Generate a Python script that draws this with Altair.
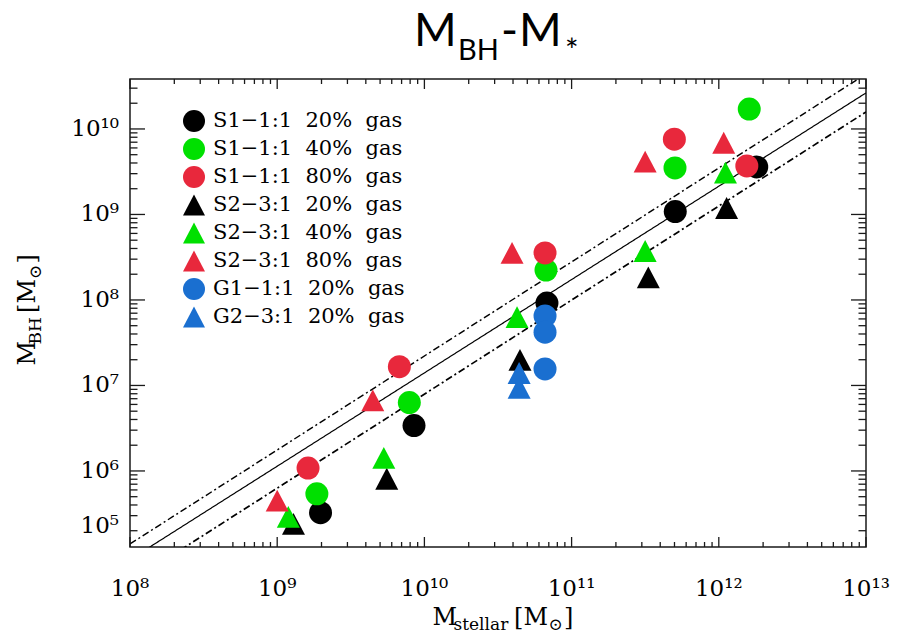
import altair as alt
import pandas as pd

# ---------------- data ----------------
series_names = [
    "S1\u22121:1\u00a0 20%\u00a0 gas",
    "S1\u22121:1\u00a0 40%\u00a0 gas",
    "S1\u22121:1\u00a0 80%\u00a0 gas",
    "S2\u22123:1\u00a0 20%\u00a0 gas",
    "S2\u22123:1\u00a0 40%\u00a0 gas",
    "S2\u22123:1\u00a0 80%\u00a0 gas",
    "G1\u22121:1\u00a0 20%\u00a0 gas",
    "G2\u22123:1\u00a0 20%\u00a0 gas",
]

s1_20_x = [1.97e9, 8.5e9, 6.8e10, 5.06e11, 1.81e12]
s1_20_y = [3.25e5, 3.4e6, 9.2e7, 1.08e9, 3.6e9]
s1_40_x = [1.86e9, 7.9e9, 6.7e10, 5.04e11, 1.61e12]
s1_40_y = [5.4e5, 6.3e6, 2.24e8, 3.5e9, 1.71e10]
s1_80_x = [1.62e9, 6.76e9, 6.6e10, 4.99e11, 1.55e12]
s1_80_y = [1.08e6, 1.66e7, 3.55e8, 7.6e9, 3.7e9]
s2_20_x = [1.29e9, 5.55e9, 4.46e10, 3.32e11, 1.13e12]
s2_20_y = [2.4e5, 8.1e5, 1.99e7, 1.84e8, 1.19e9]
s2_40_x = [1.19e9, 5.3e9, 4.26e10, 3.16e11, 1.11e12]
s2_40_y = [2.9e5, 1.42e6, 6.3e7, 3.74e8, 3.08e9]
s2_80_x = [1.0e9, 4.46e9, 3.94e10, 3.16e11, 1.08e12]
s2_80_y = [4.5e5, 6.7e6, 3.55e8, 4.15e9, 6.9e9]
g1_x = [6.6e10, 6.6e10, 6.6e10]
g1_y = [6.5e7, 4.2e7, 1.56e7]
g2_x = [4.4e10, 4.4e10]
g2_y = [1.4e7, 9.4e6]

# relation lines (end points)
line_x = [1e8, 1e13]
fit_y = [9.2e4, 2.64e10]
upper_y = [1.4e5, 4.4e10]
lower_y = [5.0e4, 1.58e10]

# axis ranges and tick labels
x_domain = [1e8, 1e13]
y_domain = [1.29e5, 3.84e10]
x_label_vals = [1e8, 1e9, 1e10, 1e11, 1e12, 1e13]
x_label_text = ["10\u2078", "10\u2079", "10\u00b9\u2070", "10\u00b9\u00b9", "10\u00b9\u00b2", "10\u00b9\u00b3"]
y_label_vals = [1e6, 1e7, 1e8, 1e9, 1e10]
y_label_text = ["10\u2076", "10\u2077", "10\u2078", "10\u2079", "10\u00b9\u2070"]
y_bottom_label_val = [2.3e5]
y_bottom_label_text = ["10\u2075"]

# ---------------- styling ----------------
series_colors = ["#000000", "#00e000", "#e8283c", "#000000", "#00e000", "#e8283c", "#1a6fd0", "#1a6fd0"]
TRI = "M0,-0.95L1,0.95L-1,0.95Z"
series_shapes = ["circle", "circle", "circle", TRI, TRI, TRI, "circle", TRI]

W, H = 736, 468
SERIF = "DejaVu Serif"

xs = alt.Scale(type="log", domain=x_domain, nice=False)
ys = alt.Scale(type="log", domain=y_domain, nice=False)

# ---------------- build tables ----------------
xs_all = [s1_20_x, s1_40_x, s1_80_x, s2_20_x, s2_40_x, s2_80_x, g1_x, g2_x]
ys_all = [s1_20_y, s1_40_y, s1_80_y, s2_20_y, s2_40_y, s2_80_y, g1_y, g2_y]
rows = []
for name, xv, yv in zip(series_names, xs_all, ys_all):
    for a, b in zip(xv, yv):
        rows.append({"series": name, "x": a, "y": b})
pts = pd.DataFrame(rows)

lines = pd.DataFrame(
    [{"line": "fit", "x": a, "y": b} for a, b in zip(line_x, fit_y)]
    + [{"line": "upper", "x": a, "y": b} for a, b in zip(line_x, upper_y)]
    + [{"line": "lower", "x": a, "y": b} for a, b in zip(line_x, lower_y)]
)

x_major = x_label_vals
x_minor = [k * 10.0 ** d for d in range(8, 13) for k in range(2, 10)]
y_major = [1e6, 1e7, 1e8, 1e9, 1e10]
y_minor = [k * 10.0 ** d for d in range(5, 11) for k in range(2, 10)
           if y_domain[0] <= k * 10.0 ** d <= y_domain[1]]

# ---------------- layers ----------------
line_layer = alt.Chart(lines).mark_line(clip=True, color="black").encode(
    x=alt.X("x:Q", scale=xs, axis=None),
    y=alt.Y("y:Q", scale=ys, axis=None),
    detail="line:N",
    strokeDash=alt.StrokeDash("line:N", scale=alt.Scale(domain=["fit", "upper", "lower"],
                              range=[[1, 0], [7, 3, 2, 3], [7, 3, 2, 3]]), legend=None),
    strokeWidth=alt.StrokeWidth("line:N", scale=alt.Scale(domain=["fit", "upper", "lower"],
                                range=[1.2, 1.7, 1.7]), legend=None),
)

leg = alt.Legend(
    title=None, orient="none", legendX=53, legendY=31, padding=0,
    symbolSize=484, symbolStrokeWidth=0, symbolOpacity=1,
    labelFont=SERIF, labelFontSize=21, labelColor="black", labelLimit=400,
    labelOffset=8, rowPadding=6,
)

point_layer = alt.Chart(pts).mark_point(filled=True, opacity=1, size=529, strokeWidth=0).encode(
    x=alt.X("x:Q", scale=xs, axis=None),
    y=alt.Y("y:Q", scale=ys, axis=None),
    color=alt.Color("series:N", scale=alt.Scale(domain=series_names, range=series_colors), legend=leg),
    shape=alt.Shape("series:N", scale=alt.Scale(domain=series_names, range=series_shapes), legend=leg),
)

TICK = "#1a1a1a"


def yticks(vals, length):
    d = pd.DataFrame({"v": vals})
    left = alt.Chart(d).mark_rule(color=TICK, strokeWidth=1.3).encode(
        y=alt.Y("v:Q", scale=ys, axis=None), x=alt.value(0), x2=alt.value(length))
    right = alt.Chart(d).mark_rule(color=TICK, strokeWidth=1.3).encode(
        y=alt.Y("v:Q", scale=ys, axis=None), x=alt.value(W - length), x2=alt.value(W))
    return [left, right]


def xticks(vals, length):
    d = pd.DataFrame({"v": vals})
    bottom = alt.Chart(d).mark_rule(color=TICK, strokeWidth=1.3).encode(
        x=alt.X("v:Q", scale=xs, axis=None), y=alt.value(H - length), y2=alt.value(H))
    top = alt.Chart(d).mark_rule(color=TICK, strokeWidth=1.3).encode(
        x=alt.X("v:Q", scale=xs, axis=None), y=alt.value(0), y2=alt.value(length))
    return [bottom, top]


tick_layers = yticks(y_major, 15) + yticks(y_minor, 7.5) + xticks(x_major, 10) + xticks(x_minor, 5)

xlab = alt.Chart(pd.DataFrame({"v": x_label_vals, "t": x_label_text})).mark_text(
    font=SERIF, fontSize=23, color="black", align="center", baseline="middle").encode(
    x=alt.X("v:Q", scale=xs, axis=None), y=alt.value(H + 42), text="t:N")

ylab = alt.Chart(pd.DataFrame({"v": y_label_vals, "t": y_label_text})).mark_text(
    font=SERIF, fontSize=23, color="black", align="right", baseline="middle").encode(
    y=alt.Y("v:Q", scale=ys, axis=None), x=alt.value(-11), text="t:N")

ylab_bottom = alt.Chart(pd.DataFrame({"v": y_bottom_label_val, "t": y_bottom_label_text})).mark_text(
    font=SERIF, fontSize=23, color="black", align="right", baseline="middle").encode(
    y=alt.Y("v:Q", scale=ys, axis=None), x=alt.value(-11), text="t:N")


def txt(s, x, y, size, font, angle=0):
    return alt.Chart(alt.Data(values=[{"t": s}])).mark_text(
        font=font, fontSize=size, color="black", align="left", baseline="alphabetic", angle=angle
    ).encode(text="t:N", x=alt.value(x), y=alt.value(y))


TF = "Lato"
title_layers = [
    txt("M", 284, -33, 46, TF),
    txt("BH", 328, -19, 29, TF),
    txt("-", 371, -33, 46, TF),
    txt("M", 389, -33, 46, TF),
    txt("*", 435, -17, 32, TF),
]

xtitle_layers = [
    txt("M", 302.5, 546, 24, SERIF),
    txt("stellar", 323.5, 551, 17, SERIF),
    txt("[", 384, 546, 24, SERIF),
    txt("M", 393.5, 546, 24, SERIF),
    txt("\u2299", 418.5, 551, 17, SERIF),
    txt("]", 434, 546, 24, SERIF),
]

ytitle_layers = [
    txt("M", -95, 286.5, 24, SERIF, 270),
    txt("BH", -89, 265.5, 17, SERIF, 270),
    txt("[", -95, 234, 24, SERIF, 270),
    txt("M", -95, 224.5, 24, SERIF, 270),
    txt("\u2299", -89, 200, 17, SERIF, 270),
    txt("]", -95, 184.5, 24, SERIF, 270),
]

chart = alt.layer(
    line_layer, point_layer, *tick_layers, xlab, ylab, ylab_bottom,
    *title_layers, *xtitle_layers, *ytitle_layers
).properties(
    width=W, height=H,
    autosize=alt.AutoSizeParams(type="none"),
    padding={"left": 122, "top": 71, "right": 30, "bottom": 88},
    background="white",
).configure_view(stroke="#1a1a1a", strokeWidth=1.5)

chart.save("out.html", embed_options={"renderer": "svg", "actions": False})
